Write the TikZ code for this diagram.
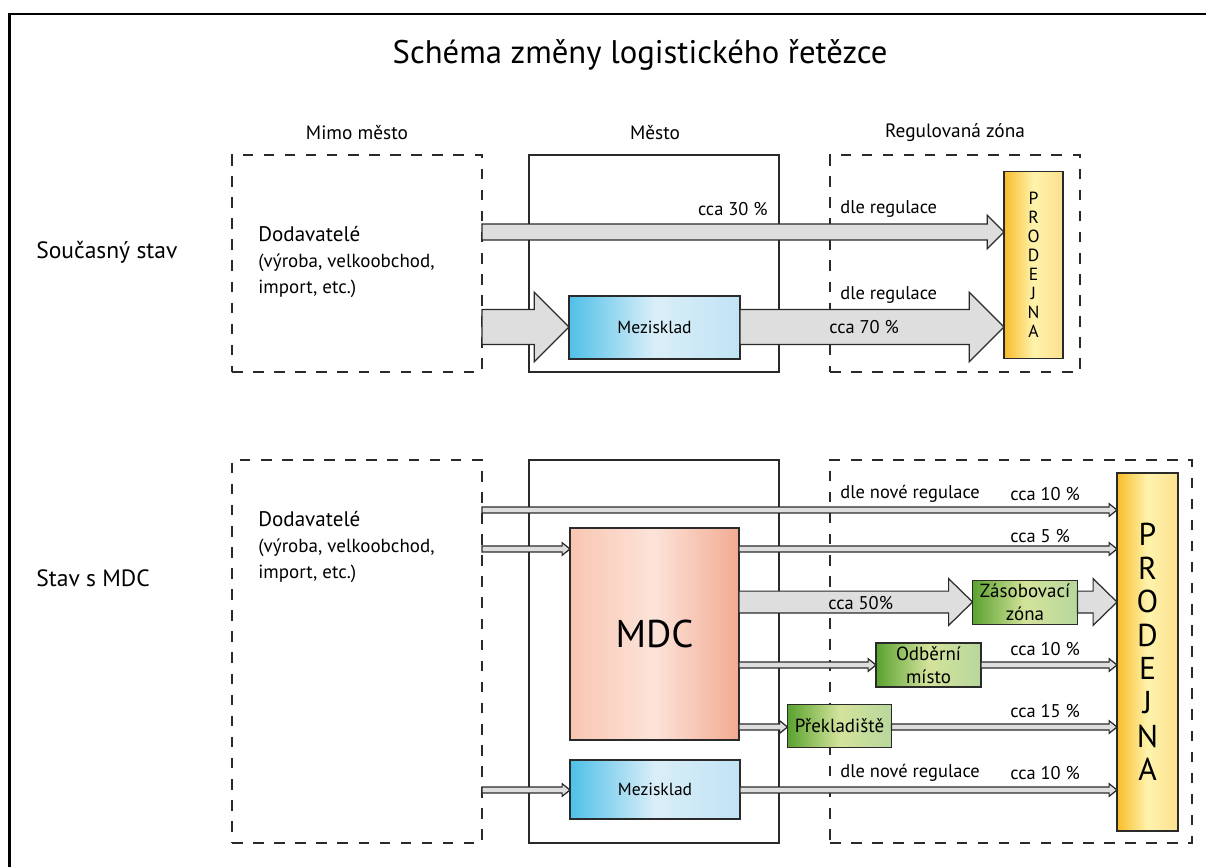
\documentclass[tikz,border=0pt]{standalone}
\usepackage{fontspec}
\setmainfont{PT Sans}
\usetikzlibrary{calc,positioning}

\definecolor{flowfill}{HTML}{DEDEDE}
\definecolor{linegray}{HTML}{2A2A2A}
\definecolor{mezL}{HTML}{4FC0E8}
\definecolor{mezM}{HTML}{DAEEF8}
\definecolor{mezR}{HTML}{C0E3F4}
\definecolor{mdcL}{HTML}{F8C6B2}
\definecolor{mdcM}{HTML}{FCE3D9}
\definecolor{mdcR}{HTML}{F2AA92}
\definecolor{grnL}{HTML}{5AA22F}
\definecolor{grnM}{HTML}{D3E39B}
\definecolor{grnR}{HTML}{B8D79C}
\definecolor{prodL}{HTML}{F9BC2A}
\definecolor{prodM}{HTML}{FEF3AC}
\definecolor{prodR}{HTML}{FCE08E}

\tikzset{
  % horizontal block arrow: body half height, head half height, head length
  flow/.style n args={3}{draw=linegray, fill=flowfill, line width=0.7pt,
    to path={let \p1=(\tikztostart), \p2=(\tikztotarget) in
      (\x1,{\y1+#1}) -- ({\x2-#3},{\y1+#1}) -- ({\x2-#3},{\y1+#2}) -- (\x2,\y1)
      -- ({\x2-#3},{\y1-#2}) -- ({\x2-#3},{\y1-#1}) -- (\x1,{\y1-#1}) -- cycle}},
  thinflow/.style={flow={1.7pt}{3.6pt}{4.5pt}},
  slimflow/.style={flow={4.5pt}{9.6pt}{9.6pt}},
  midflow/.style={flow={6.2pt}{13.3pt}{13.6pt}},
  bigflow/.style={flow={9.9pt}{19.8pt}{19.8pt}}
}

\begin{document}
\begin{tikzpicture}[x=0.02cm, y=-0.02cm,
  zone/.style={draw=linegray, line width=0.8pt, dash pattern=on 6pt off 6pt, inner sep=0pt, outer sep=0pt},
  city/.style={draw=linegray, line width=0.8pt, inner sep=0pt, outer sep=0pt},
  box/.style={draw=linegray, line width=0.8pt, inner sep=0pt, outer sep=0pt, align=center, font=\fontsize{10}{12}\selectfont},
  store/.style={box, left color=mezL, right color=mezR, middle color=mezM},
  hub/.style={box, left color=mdcL, right color=mdcR, middle color=mdcM},
  point/.style={box, left color=grnL, right color=grnR, middle color=grnM, font=\fontsize{10.8}{13}\selectfont},
  shop/.style={box, left color=prodL, right color=prodR, middle color=prodM},
  head/.style={font=\fontsize{11}{13}\selectfont},
  state/.style={font=\fontsize{13.4}{16}\selectfont, anchor=west, inner sep=0pt},
  supp/.style={font=\fontsize{10.8}{14.7}\selectfont, anchor=west, align=left, inner sep=0pt},
  lbl/.style={font=\fontsize{10.5}{12}\selectfont, anchor=west, inner sep=0pt}
]
\useasboundingbox (0,0) rectangle (1206,866);
\draw[line width=1.2pt] (9.5,880) -- (9.5,14) -- (1220,14);

% title and column heads
\node[font=\fontsize{18.6}{22}\selectfont] (title) at (640,55) {Schéma změny logistického řetězce};
\node[head] (hOut) at (357,133) {Mimo město};
\node[head] (hCity) at (655,133) {Město};
\node[head] (hReg) at (955,133) {Regulovaná zóna};

% current state
\node[state] (sNow) at (36,252) {Současný stav};
\node[zone, minimum width=5cm, minimum height=4.34cm] (out1) at (357,263.5) {};
\node[city, minimum width=5cm, minimum height=4.34cm] (city1) at (654,263.5) {};
\node[zone, minimum width=5cm, minimum height=4.34cm] (reg1) at (955,263.5) {};
\node[supp] (sup1) at (258,262) {{\fontsize{12}{14.7}\selectfont Dodavatelé}\\(výroba, velkoobchod,\\import, etc.)};

\node[store, minimum width=3.42cm, minimum height=1.26cm] (mez1) at (654.5,327.5) {Mezisklad};
\node[shop, minimum width=1.18cm, minimum height=3.74cm, font=\fontsize{10}{10.8}\selectfont] (prod1) at (1033.5,265) {P\\R\\O\\D\\E\\J\\N\\A};

\coordinate (t1) at (482,232);
\coordinate (t2) at (482,327);
\draw[slimflow] (t1) to (prod1.west);
\draw[bigflow] (t2) to (mez1.west);
\draw[bigflow] (mez1.east |- t2) to (prod1.west);

\node[lbl, anchor=east] (p30) at (768,209) {cca 30 \%};
\node[lbl] (rule1) at (840,209) {dle regulace};
\node[lbl] (rule2) at (840,295) {dle regulace};
\node[lbl] (p70) at (829,327) {cca 70 \%};

% state with MDC
\node[state] (sMdc) at (36,578) {Stav s MDC};
\node[zone, minimum width=5cm, minimum height=7.66cm] (out2) at (357,651.5) {};
\node[city, minimum width=5cm, minimum height=7.66cm] (city2) at (654,651.5) {};
\node[zone, minimum width=7.24cm, minimum height=7.66cm] (reg2) at (1011,651.5) {};
\node[supp] (sup2) at (258,547) {{\fontsize{12}{14.7}\selectfont Dodavatelé}\\(výroba, velkoobchod,\\import, etc.)};

\node[hub, minimum width=3.38cm, minimum height=4.24cm, font=\fontsize{22}{26}\selectfont] (mdc) at (654.5,634) {MDC};
\node[store, minimum width=3.4cm, minimum height=1.18cm] (mez2) at (655,789.5) {Mezisklad};
\node[point, minimum width=2.1cm, minimum height=0.88cm] (zas) at (1025,602.5) {Zásobovací\\zóna};
\node[point, minimum width=2.1cm, minimum height=0.88cm] (odb) at (928.5,665) {Odběrní\\místo};
\node[point, minimum width=2.08cm, minimum height=0.86cm] (pre) at (839.5,726) {Překladiště};
\node[shop, minimum width=1.22cm, minimum height=7.16cm, font=\fontsize{18}{19.1}\selectfont] (prod2) at (1147.5,652) {P\\R\\O\\D\\E\\J\\N\\A};

\coordinate (r1) at (482,510);
\coordinate (r2) at (482,549);
\coordinate (r3) at (482,602);
\coordinate (r4) at (482,665);
\coordinate (r5) at (482,727);
\coordinate (r6) at (482,790);
\draw[thinflow] (r1) to (prod2.west);
\draw[thinflow] (r2) to (mdc.west);
\draw[thinflow] (mdc.east |- r2) to (prod2.west);
\draw[midflow] (mdc.east |- r3) to (zas.west);
\draw[midflow] (zas.east |- r3) to (prod2.west);
\draw[thinflow] (mdc.east |- r4) to (odb.west);
\draw[thinflow] (odb.east |- r4) to (prod2.west);
\draw[thinflow] (mdc.east |- r5) to (pre.west);
\draw[thinflow] (pre.east |- r5) to (prod2.west);
\draw[thinflow] (r6) to (mez2.west);
\draw[thinflow] (mez2.east |- r6) to (prod2.west);

\node[lbl] (rule3) at (840,494) {dle nové regulace};
\node[lbl] (p10a) at (1010,494) {cca 10 \%};
\node[lbl] (p5) at (1010,536) {cca 5 \%};
\node[lbl] (p50) at (828,603) {cca 50\%};
\node[lbl] (p10b) at (1010,649) {cca 10 \%};
\node[lbl] (p15) at (1010,711) {cca 15 \%};
\node[lbl] (rule4) at (840,773) {dle nové regulace};
\node[lbl] (p10c) at (1010,773) {cca 10 \%};
\end{tikzpicture}
\end{document}
